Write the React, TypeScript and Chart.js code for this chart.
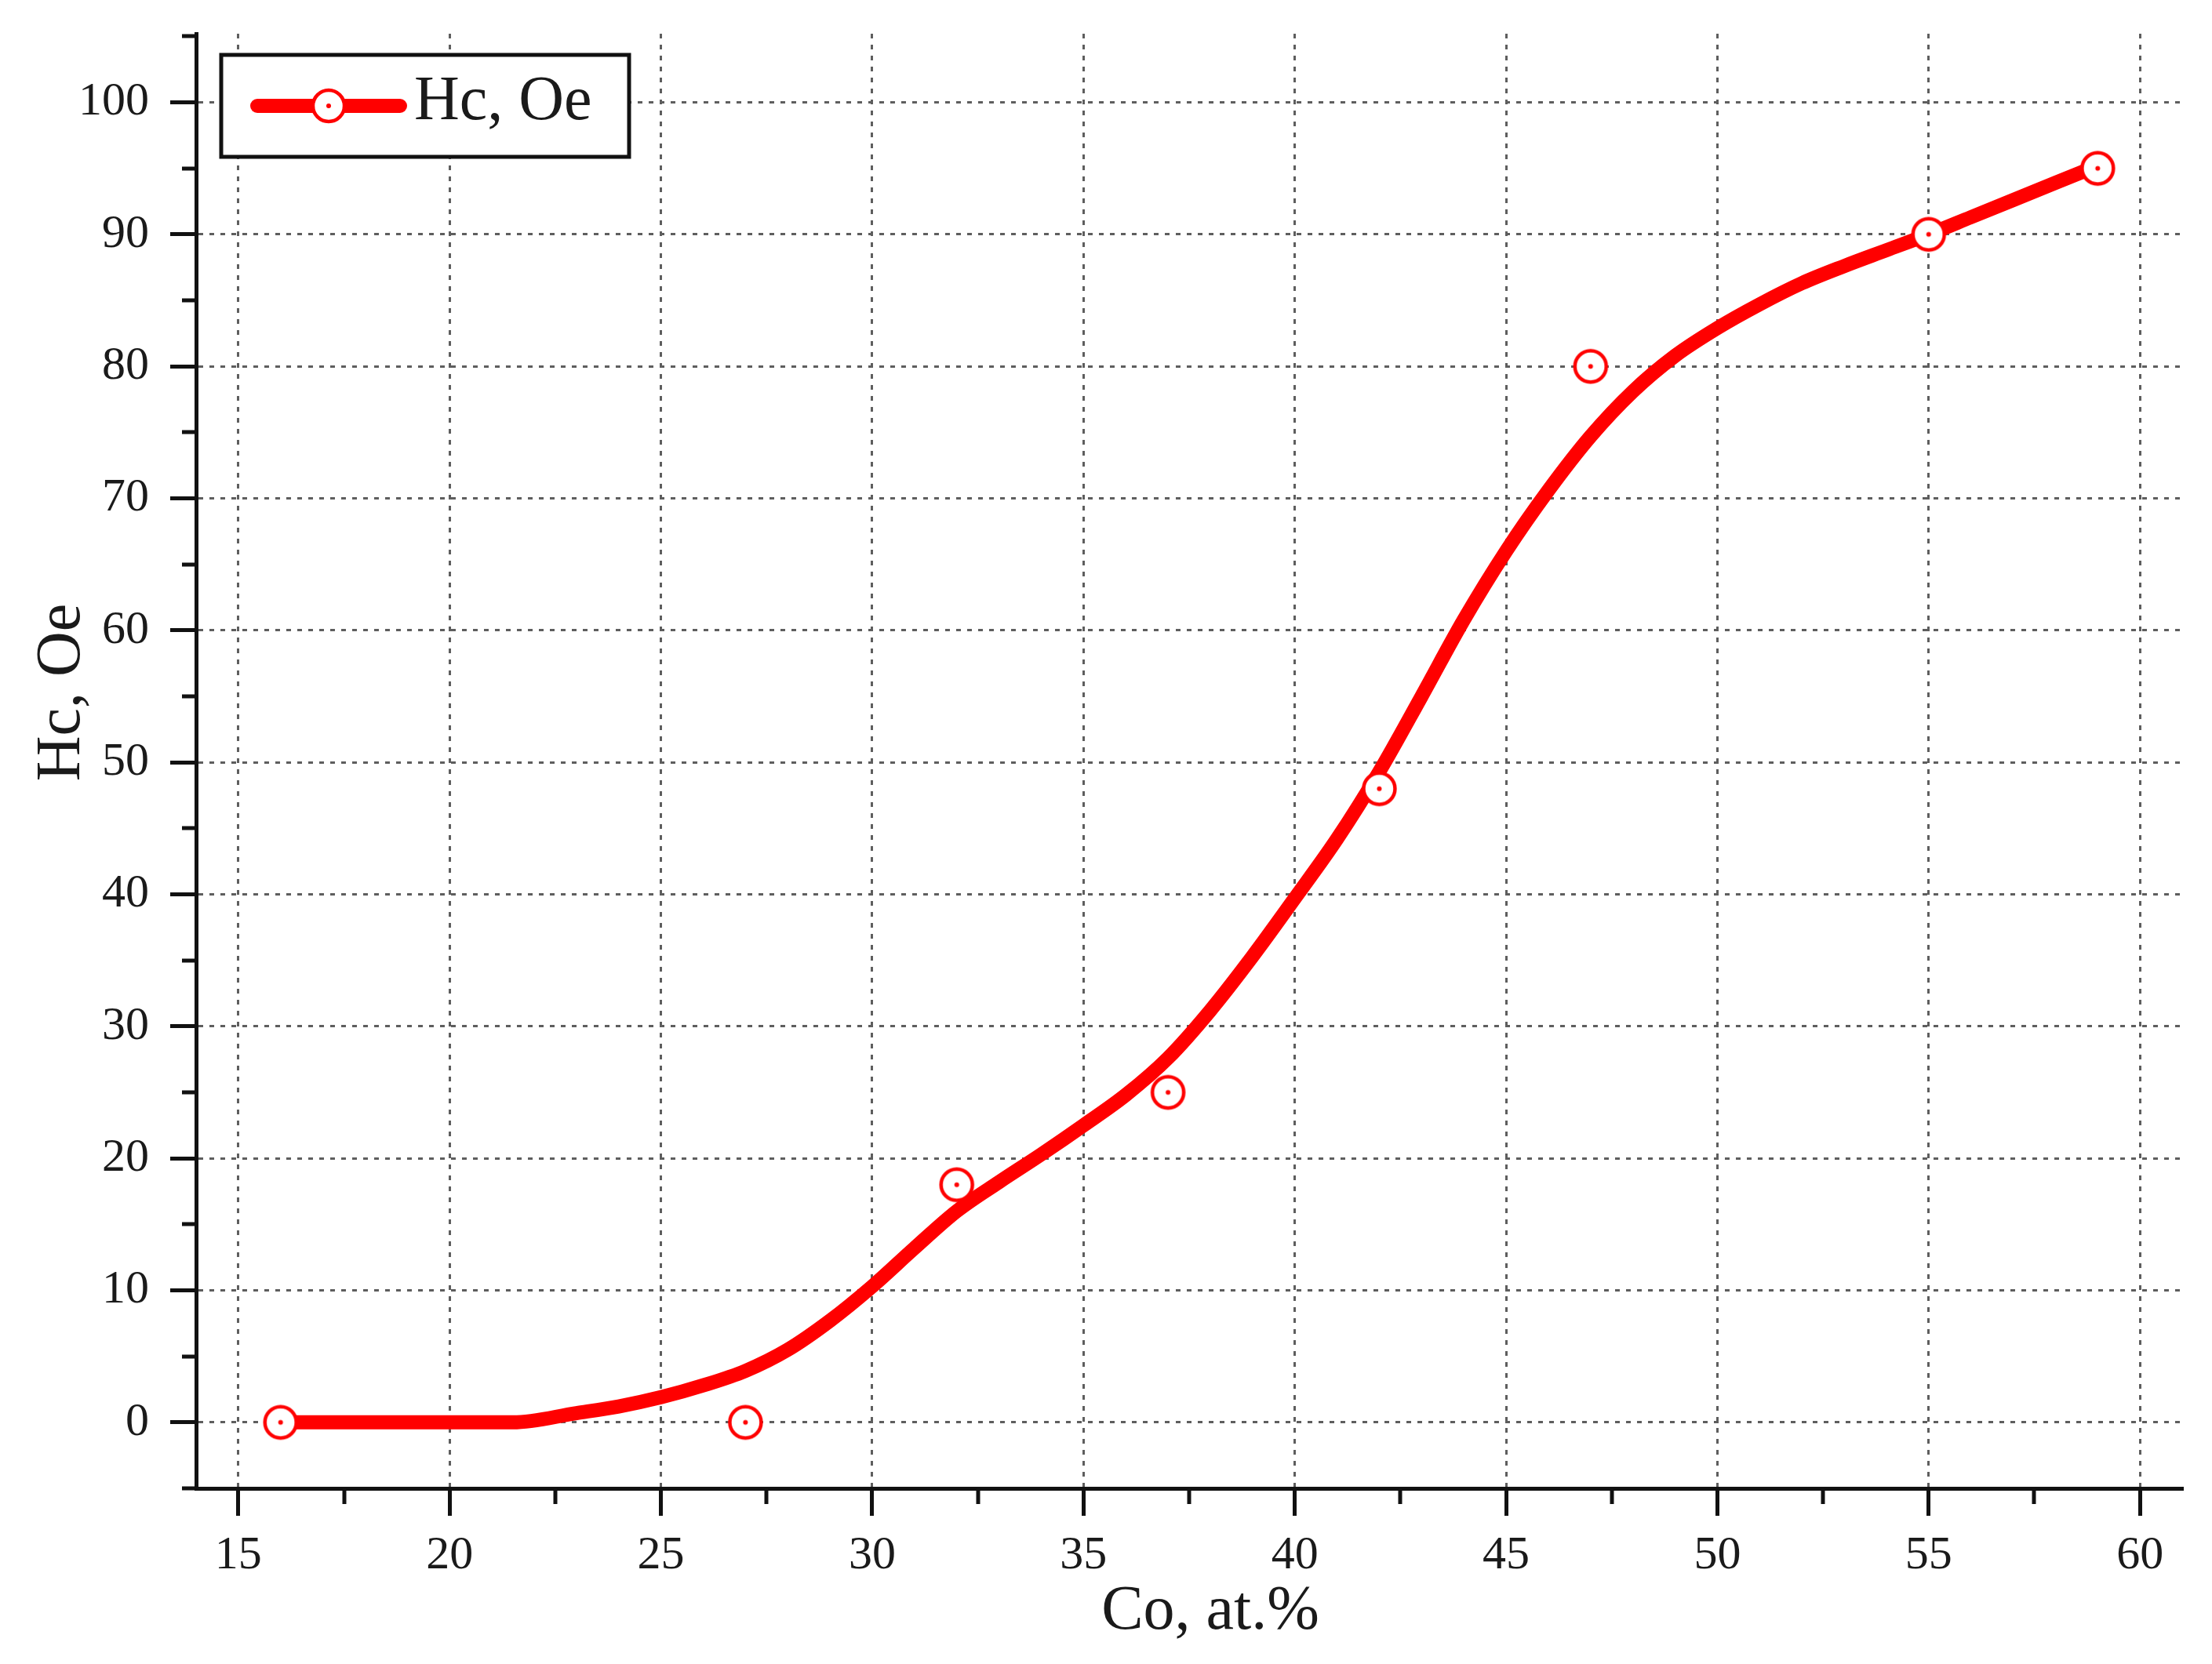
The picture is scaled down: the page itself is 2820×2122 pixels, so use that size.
import React, { useEffect, useRef } from 'react';
import { Chart, registerables } from 'chart.js';

Chart.register(...registerables);

// ---- data ----
const measuredCo = [16, 27, 32, 37, 42, 47, 55, 59];
const measuredHc = [0, 0, 18, 25, 48, 80, 90, 95];

const fitCo = [16, 18, 20, 21.5, 23, 24, 25, 26, 27, 28, 29, 30, 31, 32, 33, 34, 35, 36, 37, 38, 39, 40, 41, 42, 43, 44, 45, 46, 47, 48, 49, 50, 51, 52, 53, 54, 55, 56, 57, 58, 59];
const fitHc = [0, 0, 0, 0, 0.7, 1.2, 1.9, 2.8, 3.9, 5.5, 7.7, 10.3, 13.2, 16.0, 18.2, 20.3, 22.5, 24.8, 27.6, 31.2, 35.3, 39.7, 44.2, 49.3, 55.0, 60.8, 66.0, 70.6, 74.7, 78.1, 80.8, 82.9, 84.7, 86.3, 87.6, 88.8, 90.0, 91.3, 92.6, 93.9, 95.2];

const xMajorTicks = [15, 20, 25, 30, 35, 40, 45, 50, 55, 60];
const xMinorTicks = [17.5, 22.5, 27.5, 32.5, 37.5, 42.5, 47.5, 52.5, 57.5];
const yMajorTicks = [0, 10, 20, 30, 40, 50, 60, 70, 80, 90, 100];
const yMinorTicks = [-5, 5, 15, 25, 35, 45, 55, 65, 75, 85, 95, 105];

const xTitle = 'Co, at.%';
const yTitle = 'Hc, Oe';
const legendLabel = 'Hc, Oe';

// ---- styles ----
const RED = '#ff0000';
const AXIS = '#111111';
const GRID = '#5e5e5e';
const TEXT = '#1a1a1a';
const SERIF = "'Liberation Serif', 'Times New Roman', 'DejaVu Serif', serif";

function makeMarker(r: number, lw: number, dot: number): HTMLCanvasElement {
  const c = document.createElement('canvas');
  const size = Math.ceil(2 * (r + lw)) + 2;
  c.width = size;
  c.height = size;
  const g = c.getContext('2d')!;
  g.beginPath();
  g.arc(size / 2, size / 2, r, 0, Math.PI * 2);
  g.fillStyle = '#ffffff';
  g.fill();
  g.lineWidth = lw;
  g.strokeStyle = RED;
  g.stroke();
  g.beginPath();
  g.arc(size / 2, size / 2, dot, 0, Math.PI * 2);
  g.fillStyle = RED;
  g.fill();
  return c;
}

const decorPlugin = {
  id: 'decor',
  afterDraw(chart: any) {
    const { ctx, chartArea } = chart;
    const x = chart.scales.x;
    const y = chart.scales.y;
    ctx.save();
    // minor ticks
    ctx.strokeStyle = AXIS;
    ctx.lineWidth = 5;
    ctx.setLineDash([]);
    ctx.beginPath();
    xMinorTicks.forEach((v) => {
      const px = Math.round(x.getPixelForValue(v));
      ctx.moveTo(px, chartArea.bottom);
      ctx.lineTo(px, chartArea.bottom + 20);
    });
    yMinorTicks.forEach((v) => {
      const py = Math.round(y.getPixelForValue(v));
      ctx.moveTo(chartArea.left, py);
      ctx.lineTo(chartArea.left - 18, py);
    });
    ctx.stroke();

    // axis titles
    ctx.fillStyle = TEXT;
    ctx.font = `80px ${SERIF}`;
    ctx.textAlign = 'center';
    ctx.textBaseline = 'middle';
    ctx.fillText(xTitle, 1543, 2056);
    ctx.save();
    ctx.translate(80, 883);
    ctx.rotate(-Math.PI / 2);
    ctx.fillText(yTitle, 0, 0);
    ctx.restore();

    // legend
    const lx = 282, ly = 70, lw = 520, lh = 130;
    ctx.fillStyle = '#ffffff';
    ctx.fillRect(lx, ly, lw, lh);
    ctx.strokeStyle = AXIS;
    ctx.lineWidth = 5;
    ctx.strokeRect(lx, ly, lw, lh);
    const cy = 135;
    ctx.strokeStyle = RED;
    ctx.lineWidth = 18;
    ctx.lineCap = 'round';
    ctx.beginPath();
    ctx.moveTo(328, cy);
    ctx.lineTo(510, cy);
    ctx.stroke();
    ctx.beginPath();
    ctx.arc(419, cy, 20, 0, Math.PI * 2);
    ctx.fillStyle = '#ffffff';
    ctx.fill();
    ctx.lineWidth = 4.5;
    ctx.stroke();
    ctx.beginPath();
    ctx.arc(419, cy, 3, 0, Math.PI * 2);
    ctx.fillStyle = RED;
    ctx.fill();
    ctx.fillStyle = TEXT;
    ctx.textAlign = 'left';
    ctx.textBaseline = 'middle';
    ctx.font = `80px ${SERIF}`;
    ctx.fillText(legendLabel, 528, 131);
    ctx.restore();
  },
};

export default function App() {
  const canvasRef = useRef<HTMLCanvasElement | null>(null);

  useEffect(() => {
    document.body.style.margin = '0';
    const canvas = canvasRef.current;
    if (!canvas) return;
    const marker = makeMarker(20, 4.5, 3);

    const chart = new Chart(canvas, {
      type: 'scatter',
      data: {
        datasets: [
          {
            label: legendLabel,
            data: measuredCo.map((v, i) => ({ x: v, y: measuredHc[i] })),
            pointStyle: marker as any,
            pointRadius: 21,
            showLine: false,
            order: 0,
          },
          {
            label: 'fit',
            data: fitCo.map((v, i) => ({ x: v, y: fitHc[i] })),
            showLine: true,
            borderColor: RED,
            borderWidth: 18,
            borderCapStyle: 'round',
            borderJoinStyle: 'round',
            pointRadius: 0,
            cubicInterpolationMode: 'monotone',
            tension: 0.4,
            order: 1,
          } as any,
        ],
      },
      options: {
        responsive: false,
        animation: false,
        events: [],
        layout: { padding: { top: 43, right: 38, left: 0, bottom: 0 } },
        plugins: {
          legend: { display: false },
          tooltip: { enabled: false },
          title: { display: false },
        },
        scales: {
          x: {
            type: 'linear',
            min: 14,
            max: 61,
            afterBuildTicks: (scale: any) => {
              scale.ticks = xMajorTicks.map((v) => ({ value: v }));
            },
            afterFit: (scale: any) => {
              scale.height = 224;
              scale.paddingLeft = 0;
              scale.paddingRight = 0;
            },
            ticks: {
              font: { family: SERIF, size: 60 },
              color: TEXT,
              padding: 15,
              maxRotation: 0,
              autoSkip: false,
            },
            grid: {
              color: GRID,
              lineWidth: 3,
              drawTicks: true,
              tickLength: 35,
              tickColor: AXIS,
              tickWidth: 5,
            },
            border: { display: true, color: AXIS, width: 5, dash: [6, 8] },
          },
          y: {
            type: 'linear',
            min: -5,
            max: 105.2,
            afterBuildTicks: (scale: any) => {
              scale.ticks = yMajorTicks.map((v) => ({ value: v }));
            },
            afterFit: (scale: any) => {
              scale.width = 250;
              scale.paddingTop = 0;
              scale.paddingBottom = 0;
            },
            ticks: {
              font: { family: SERIF, size: 60 },
              color: TEXT,
              padding: 27,
              autoSkip: false,
            },
            grid: {
              color: GRID,
              lineWidth: 3,
              drawTicks: true,
              tickLength: 33,
              tickColor: AXIS,
              tickWidth: 5,
            },
            border: { display: true, color: AXIS, width: 5, dash: [6, 8] },
          },
        },
      },
      plugins: [decorPlugin],
    });

    return () => chart.destroy();
  }, []);

  return (
    <div style={{ width: 2820, height: 2122, background: '#ffffff' }}>
      <canvas ref={canvasRef} width={2820} height={2122} style={{ display: 'block' }} />
    </div>
  );
}
